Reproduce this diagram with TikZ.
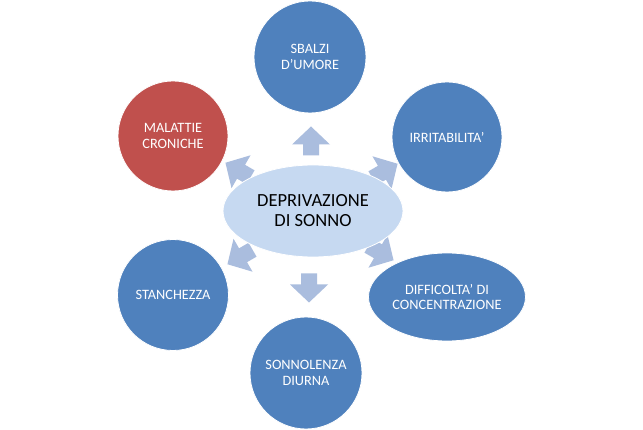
\documentclass[tikz,border=0pt]{standalone}
\usepackage{fontspec}
\setmainfont{Carlito}
\usetikzlibrary{shapes.geometric}
\definecolor{nodeblue}{RGB}{79,129,189}
\definecolor{nodered}{RGB}{192,80,77}
\definecolor{hubfill}{RGB}{198,217,241}
\definecolor{arrowfill}{RGB}{170,189,222}
\begin{document}
\begin{tikzpicture}[x=1pt,y=-1pt,
  bubble/.style={circle,fill=nodeblue,draw=white,line width=0.8pt,inner sep=0pt,minimum size=#1,
    text=white,align=center,font=\fontsize{14.3}{15.5}\selectfont},
  oval/.style={ellipse,fill=nodeblue,draw=white,line width=0.8pt,inner sep=0pt,
    text=white,align=center,font=\fontsize{14.3}{15.5}\selectfont},
  hub/.style={ellipse,fill=hubfill,draw=white,line width=0.8pt,inner sep=0pt,
    minimum width=180,minimum height=92,align=center,text=black,
    font=\fontsize{18.5}{20}\selectfont},
  barrow/.pic={\fill[arrowfill] (-14.5,-8) -- (-3.5,-8) -- (-3.5,-19) -- (14.5,0)
      -- (-3.5,19) -- (-3.5,8) -- (-14.5,8) -- cycle;}
]
\useasboundingbox (0,0) rectangle (643,430);
\fill[white] (0,0) rectangle (643,430);
% block arrows (behind the shapes)
\pic[rotate=90] at (311,141) {barrow};
\pic[rotate=-90] at (309,288) {barrow};
\pic[rotate=150] at (238,170) {barrow};
\pic[rotate=30] at (385,171) {barrow};
\pic[rotate=210] at (240,257) {barrow};
\pic[rotate=-30] at (381,253) {barrow};
% shapes
\node[hub] (hub) at (313,211) {DEPRIVAZIONE\\DI SONNO};
\node[bubble=112] (sbalzi) at (310,57) {SBALZI\\D’UMORE};
\node[bubble=110] (irrit) at (447,137) {IRRITABILITA’};
\node[oval,minimum width=157,minimum height=88] (diff) at (447,297) {DIFFICOLTA’ DI\\CONCENTRAZIONE};
\node[bubble=112] (sonno) at (306,373) {SONNOLENZA\\DIURNA};
\node[bubble=111] (stanc) at (173,295) {STANCHEZZA};
\node[bubble=110,fill=nodered] (malat) at (173,136) {MALATTIE\\CRONICHE};
\end{tikzpicture}
\end{document}
